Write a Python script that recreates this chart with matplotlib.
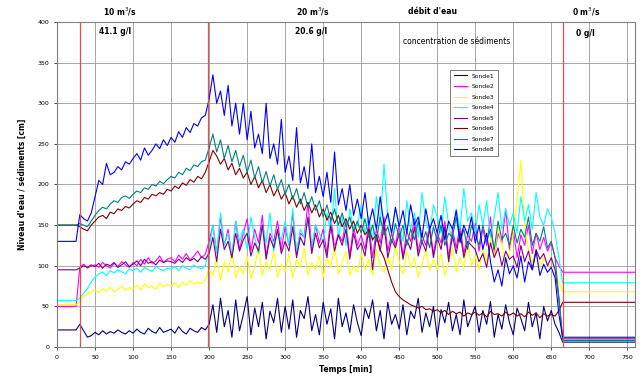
import numpy as np
import matplotlib
matplotlib.use("Agg")
import matplotlib.pyplot as plt

# time axis (min): 0..665 every 5 min, then end of record
time_min = list(range(0, 670, 5)) + [760]

sonde1 = [21,21,21,21,21,21,28,20,12,14,
          18,15,20,16,19,17,21,18,16,20,
          17,22,18,16,23,19,17,24,18,20,
          22,17,25,19,16,23,20,18,24,21,
          28,52,18,60,25,45,12,58,20,40,
          62,15,48,25,55,10,44,30,60,18,
          50,22,58,12,45,35,62,20,40,15,
          55,28,47,10,60,25,42,18,52,30,
          14,48,35,58,20,45,10,55,28,40,
          22,52,15,44,35,60,18,42,25,50,
          12,46,30,55,20,40,15,58,25,38,
          50,18,45,28,56,12,40,22,52,30,
          15,48,35,20,55,25,42,10,50,32,
          45,28,18,6,6]
sonde2 = [50,50,50,50,50,50,98,102,97,100,
          101,98,104,100,97,103,99,105,101,98,
          104,100,108,102,110,103,106,112,104,108,
          110,105,113,108,115,107,112,118,110,114,
          130,150,115,160,125,145,110,155,120,140,
          158,118,145,128,162,112,140,130,155,120,
          148,125,165,115,140,135,178,120,150,128,
          145,115,160,122,140,130,155,112,148,125,
          138,120,152,110,145,128,160,118,140,125,
          150,112,142,130,158,118,138,125,150,115,
          140,128,155,110,145,122,150,115,138,130,
          152,118,145,125,160,112,140,128,170,120,
          145,110,138,125,150,115,140,120,135,118,
          128,110,100,92,92]
sonde3 = [52,52,52,52,52,52,56,62,66,68,
          70,67,72,69,74,68,71,75,70,73,
          72,76,70,78,73,75,71,79,74,77,
          75,79,73,80,76,82,77,80,78,83,
          95,88,110,82,105,92,120,85,100,90,
          112,84,98,125,88,105,95,118,86,102,
          92,115,85,108,98,122,88,104,95,112,
          86,110,98,125,90,105,118,88,100,92,
          115,95,108,88,120,100,92,112,96,125,
          105,90,118,98,110,86,102,120,94,108,
          96,115,88,105,122,92,110,98,130,100,
          112,95,120,105,135,110,150,125,100,115,
          140,180,230,150,120,105,118,98,110,102,
          95,88,80,68,68]
sonde4 = [57,57,57,57,57,57,60,66,72,80,
          86,90,92,88,94,91,95,93,90,96,
          94,97,92,98,95,93,99,96,94,97,
          96,99,94,100,97,95,101,98,96,100,
          120,150,115,165,125,140,110,155,130,145,
          120,160,135,115,150,128,165,118,140,132,
          155,125,170,118,145,135,160,122,150,140,
          128,165,140,195,135,160,125,170,145,150,
          175,140,160,130,185,150,225,160,140,170,
          150,130,180,145,165,135,190,155,140,175,
          160,140,185,150,130,170,145,195,155,165,
          140,175,150,180,135,160,190,145,170,150,
          165,140,185,155,175,145,190,160,150,170,
          160,140,110,79,79]
sonde5 = [95,95,95,95,95,95,97,100,98,101,
          99,103,97,102,100,104,98,101,105,99,
          102,106,100,108,103,105,101,107,104,106,
          105,103,108,104,110,106,109,105,111,108,
          115,135,105,145,120,130,110,140,118,132,
          140,112,128,118,150,108,135,122,145,115,
          130,118,148,110,135,125,160,115,140,122,
          132,110,150,118,138,125,145,108,140,120,
          128,112,145,95,138,118,150,110,132,122,
          140,108,132,120,148,112,130,118,145,110,
          135,120,148,105,138,115,142,110,130,125,
          120,105,115,98,128,110,122,100,118,108,
          112,98,125,105,118,95,120,108,115,100,
          110,95,60,10,10]
sonde6 = [150,150,150,150,150,150,148,145,143,150,
          155,160,162,158,166,164,170,168,173,171,
          176,180,178,184,182,188,186,190,188,194,
          192,198,195,202,199,206,203,210,207,215,
          228,242,235,225,232,218,226,212,220,208,
          215,200,210,196,205,190,200,186,195,182,
          190,176,186,172,182,168,178,165,175,160,
          170,156,166,152,162,148,158,145,155,140,
          150,138,145,132,138,120,110,95,80,68,
          62,58,55,52,50,48,50,46,47,44,
          46,42,45,40,44,41,43,38,42,40,
          43,39,42,37,44,40,41,38,43,39,
          42,38,41,37,43,39,42,36,41,38,
          40,38,45,55,55]
sonde7 = [150,150,150,150,150,150,152,150,148,155,
          162,168,172,170,176,180,178,184,186,183,
          188,192,190,196,194,200,198,204,201,206,
          210,208,215,212,220,217,224,222,228,230,
          245,262,240,255,232,248,228,242,222,236,
          215,230,208,222,202,216,198,212,194,206,
          188,200,182,195,176,190,172,185,168,180,
          160,175,155,170,150,165,148,160,142,155,
          140,158,135,150,130,160,138,148,128,152,
          135,150,125,145,132,155,128,142,122,148,
          130,150,125,140,135,160,128,145,120,150,
          138,125,150,130,145,120,155,132,140,125,
          150,128,145,135,160,125,140,130,148,122,
          130,110,60,8,8]
sonde8 = [130,130,130,130,130,130,163,158,155,165,
          185,205,200,226,212,215,222,218,228,225,
          232,238,230,245,236,242,250,244,255,248,
          258,252,265,258,270,264,275,272,282,285,
          305,335,300,315,285,322,272,300,262,300,
          255,290,245,262,238,300,232,250,225,280,
          215,235,205,270,202,222,195,250,190,210,
          185,215,178,240,175,195,168,200,162,182,
          158,190,150,170,145,185,150,165,140,172,
          148,168,140,175,150,160,135,170,145,158,
          140,162,132,155,145,168,130,150,138,160,
          128,150,120,140,105,80,95,75,110,90,
          100,85,112,80,105,95,118,88,102,92,
          98,85,40,12,12]

series_names = ["Sonde1", "Sonde2", "Sonde3", "Sonde4",
                "Sonde5", "Sonde6", "Sonde7", "Sonde8"]
series_values = [sonde1, sonde2, sonde3, sonde4, sonde5, sonde6, sonde7, sonde8]
series_colors = ["#000080", "#FF00FF", "#FFFF00", "#00FFFF",
                 "#800080", "#800000", "#008080", "#0000FF"]

event_times = [30, 198, 665]
x_ticks = list(range(0, 800, 50))
y_ticks = list(range(0, 450, 50))

fig = plt.figure(figsize=(6.42, 3.83), dpi=100)
ax = fig.add_axes([0.0888, 0.094, 0.9002, 0.8486])

for name, vals, col in zip(series_names, series_values, series_colors):
    ax.plot(time_min, vals, color=col, lw=0.8, label=name)

for t in event_times:
    ax.axvline(t, color="#e05050", lw=0.9, zorder=3)

ax.set_xlim(0, 760)
ax.set_ylim(0, 400)
ax.set_xticks(x_ticks)
ax.set_yticks(y_ticks)
ax.tick_params(labelsize=4.5, length=2, width=0.5)
ax.grid(True, color="#9a9a9a", lw=0.6)
ax.set_axisbelow(True)
for s in ax.spines.values():
    s.set_color("#808080")
    s.set_linewidth(0.8)

ax.set_xlabel("Temps [min]", fontsize=5.5, fontweight="bold", labelpad=4)
ax.set_ylabel("Niveau d'eau / sédiments [cm]", fontsize=5.5, fontweight="bold", labelpad=8)

fig.text(0.187, 0.969, "10 m$^3$/s", fontsize=5.5, fontweight="bold", ha="center", va="center")
fig.text(0.4875, 0.969, "20 m$^3$/s", fontsize=5.5, fontweight="bold", ha="center", va="center")
fig.text(0.673, 0.969, "débit d'eau", fontsize=5.5, fontweight="bold", ha="center", va="center")
fig.text(0.914, 0.969, "0 m$^3$/s", fontsize=5.5, fontweight="bold", ha="center", va="center")

ax.text(76, 388, "41.1 g/l", fontsize=5.5, fontweight="bold", ha="center", va="center")
ax.text(334, 388, "20.6 g/l", fontsize=5.5, fontweight="bold", ha="center", va="center")
ax.text(526, 376, "concentration de sédiments", fontsize=5.5, ha="center", va="center")
ax.text(695, 386, "0 g/l", fontsize=5.5, fontweight="bold", ha="center", va="center")

leg = ax.legend(loc="upper left", bbox_to_anchor=(0.675, 0.862), fontsize=4.3,
                frameon=True, fancybox=False, edgecolor="#404040",
                handlelength=2.2, labelspacing=0.9, borderpad=0.6)
leg.get_frame().set_linewidth(0.6)

fig.savefig("out.png", dpi=100)
